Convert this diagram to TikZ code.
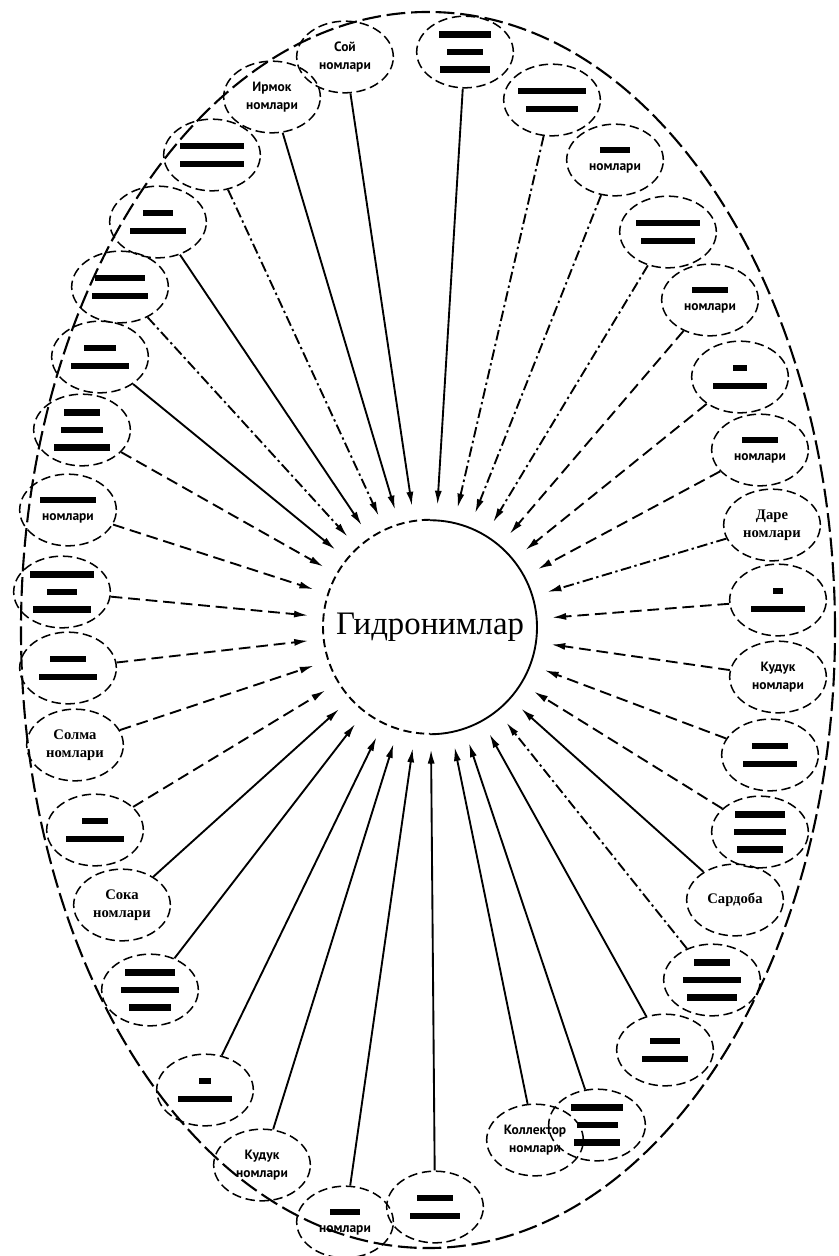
\documentclass[tikz,border=0pt]{standalone}
\usepackage{fontspec}
\setmainfont{Liberation Serif}
\setsansfont{PT Sans}
\usetikzlibrary{shapes.geometric, arrows.meta}

% smudged (unreadable) words of the scan
\newcommand{\smear}[1]{\rule{#1pt}{5.5pt}}

\begin{document}
\begin{tikzpicture}[
  x=0.03cm, y=-0.03cm,
  >={Latex[length=12pt,width=6pt]},
  sat/.style={ellipse, draw=black, line width=1.3pt, dash pattern=on 8pt off 4pt,
    minimum width=2.9cm, minimum height=2.15cm, inner sep=0pt, align=center,
    font=\sffamily\bfseries\fontsize{11.5}{15}\selectfont},
  satrm/.style={sat, font=\rmfamily\bfseries\fontsize{12.5}{15}\selectfont},
  lnk/.style={line width=1.6pt, ->, shorten >=13pt},
  lnkdash/.style={lnk, dash pattern=on 10pt off 5pt},
  lnkdot/.style={lnk, dash pattern=on 9pt off 3pt on 2pt off 3pt},
]
\useasboundingbox (0,0) rectangle (839,1256);

% ============================================================================
% outer dashed ellipse
% ============================================================================
\draw[line width=1.8pt, dash pattern=on 16pt off 5pt]
  (428,630) ellipse [x radius=12.21cm, y radius=18.54cm];

% ============================================================================
% hub: right half solid, left half dashed
% ============================================================================
\node[circle, minimum size=6.42cm, inner sep=0pt,
      font=\rmfamily\fontsize{28}{32}\selectfont] (hub) at (430,627) {Гидронимлар};
\draw[line width=1.6pt] (hub.south) arc[start angle=-90, end angle=90, radius=3.21cm];
\draw[line width=1.6pt, dash pattern=on 7pt off 4pt]
  (hub.north) arc[start angle=90, end angle=270, radius=3.21cm];

% ============================================================================
% satellites, clockwise from the top
% ============================================================================
\foreach \nm/\px/\py/\sty/\lsty/\txt in {
  soy/345/57/sat/lnk/{Сой\\номлари},
  b02/465/52/sat/lnk/{\smear{45}\\\smear{30}\\\smear{42}},
  b03/552/100/sat/lnkdot/{\smear{58}\\\smear{44}},
  b04/615/160/sat/lnkdot/{\smear{25}\\номлари},
  b05/668/232/sat/lnkdot/{\smear{55}\\\smear{46}},
  b06/710/300/sat/lnkdash/{\smear{30}\\номлари},
  b07/740/377/sat/lnkdash/{\smear{12}\\\smear{46}},
  b08/760/450/sat/lnkdash/{\smear{30}\\номлари},
  dare/772/525/satrm/lnkdot/{Даре\\номлари},
  b10/778/600/sat/lnkdash/{\smear{8}\\\smear{46}},
  kuduk/778/677/sat/lnkdash/{Кудук\\номлари},
  b12/770/755/sat/lnkdash/{\smear{30}\\\smear{46}},
  b13/760/832/sat/lnkdash/{\smear{42}\\\smear{45}\\\smear{40}},
  sardoba/735/900/satrm/lnk/{Сардоба},
  b15/712/980/sat/lnkdot/{\smear{30}\\\smear{50}\\\smear{42}},
  b16/665/1050/sat/lnk/{\smear{25}\\\smear{40}},
  b17/597/1125/sat/lnk/{\smear{45}\\\smear{35}\\\smear{40}},
  kollektor/535/1140/sat/lnk/{Коллектор\\номлари},
  b19/435/1207/sat/lnk/{\smear{30}\\\smear{42}},
  b20/345/1222/sat/lnk/{\smear{25}\\номлари},
  kuduk2/262/1165/sat/lnk/{Кудук\\номлари},
  b22/205/1090/sat/lnk/{\smear{10}\\\smear{46}},
  b23/150/990/sat/lnk/{\smear{42}\\\smear{50}\\\smear{35}},
  soka/122/905/satrm/lnk/{Сока\\номлари},
  b25/95/830/sat/lnkdash/{\smear{22}\\\smear{50}},
  solma/75/745/satrm/lnkdash/{Солма\\номлари},
  b27/68/668/sat/lnkdash/{\smear{30}\\\smear{50}},
  b28/62/592/sat/lnkdash/{\smear{55}\\\smear{25}\\\smear{50}},
  b29/68/510/sat/lnkdash/{\smear{48}\\номлари},
  b30/82/430/sat/lnkdash/{\smear{30}\\\smear{35}\\\smear{48}},
  b31/100/357/sat/lnk/{\smear{28}\\\smear{50}},
  b32/120/287/sat/lnkdot/{\smear{42}\\\smear{48}},
  b33/158/222/sat/lnk/{\smear{25}\\\smear{48}},
  b34/212/155/sat/lnkdot/{\smear{55}\\\smear{55}},
  irmok/272/97/sat/lnk/{Ирмок\\номлари}} {
  \node[\sty] (\nm) at (\px,\py) {\txt};
  \draw[\lsty] (\nm) -- (hub);
}

\end{tikzpicture}
\end{document}
